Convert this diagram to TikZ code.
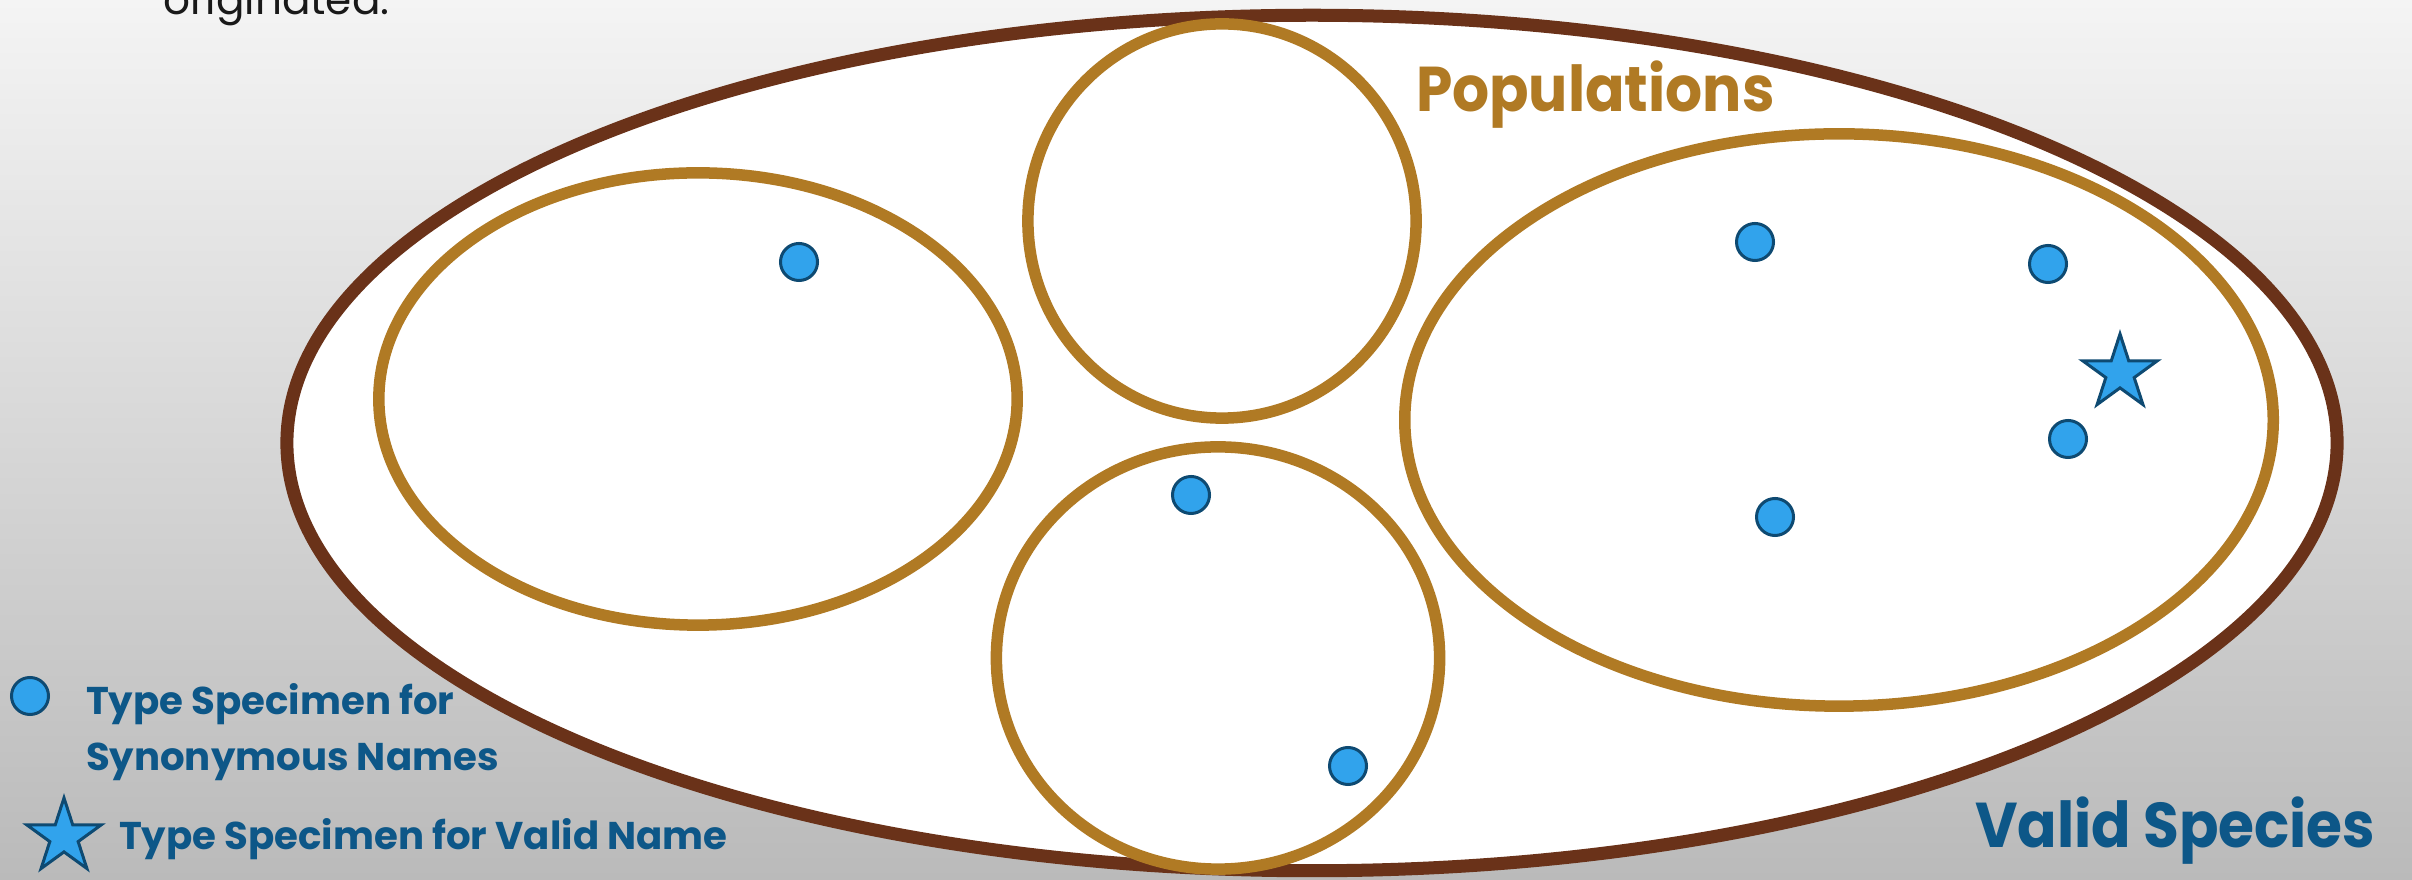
\documentclass[tikz,border=0pt]{standalone}
\usepackage{fontspec}
\setmainfont{Poppins}
\newfontfamily\titlefont{Poppins}[FakeStretch=0.92]
\usetikzlibrary{shapes.geometric}

\definecolor{speciesbrown}{HTML}{6A3219}
\definecolor{popgold}{HTML}{B07A24}
\definecolor{dotblue}{HTML}{31A3EC}
\definecolor{dotedge}{HTML}{0E4A72}
\definecolor{textblue}{HTML}{0D5788}
\definecolor{bgtop}{HTML}{F4F4F4}
\definecolor{bgbottom}{HTML}{BABABA}

\begin{document}
\begin{tikzpicture}[x=0.01cm, y=-0.01cm, every node/.style={inner sep=0pt, outer sep=0pt},
    species/.style={ellipse, draw=speciesbrown, line width=0.13cm, fill=white},
    population/.style={ellipse, draw=popgold, line width=0.115cm, fill=white},
    synonym/.style={circle, draw=dotedge, line width=0.03cm, fill=dotblue, minimum size=0.37cm},
    validtype/.style={star, star points=5, star point ratio=2.618, draw=dotedge, line width=0.03cm, fill=dotblue, minimum size=0.78cm},
    bigtext/.style={anchor=base west, font=\titlefont\bfseries\fontsize{18}{22}\selectfont},
    legendtext/.style={anchor=base west, text=textblue, align=left, font=\bfseries\fontsize{11}{16}\selectfont}]
    % Background
    \useasboundingbox (0,0) rectangle (2412,880);
    \clip (0,0) rectangle (2412,880);
    \shade[top color=bgtop, bottom color=bgbottom] (0,0) rectangle (2412,880);
    \node[anchor=base west, text=black!90, font=\fontsize{12}{14}\selectfont] (caption) at (163,15) {originated.};

    % Nodes
    \node[species, minimum width=20.49cm, minimum height=8.55cm] (validspecies) at (1312,443) {};
    \node[population, minimum width=6.38cm, minimum height=4.52cm] (popleft) at (698,399) {};
    \node[population, minimum width=3.88cm, minimum height=3.94cm] (poptop) at (1222,221) {};
    \node[population, minimum width=4.43cm, minimum height=4.22cm] (popbottom) at (1218,658) {};
    \node[population, minimum width=8.68cm, minimum height=5.72cm] (popright) at (1839,420) {};

    \node[synonym] (s1) at (799,262) {};
    \node[synonym] (s2) at (1191,495) {};
    \node[synonym] (s3) at (1348,766) {};
    \node[synonym] (s4) at (1755,242) {};
    \node[synonym] (s5) at (2048,264) {};
    \node[synonym] (s6) at (2068,439) {};
    \node[synonym] (s7) at (1775,517) {};
    \node[validtype] (holotype) at (2120,373) {};

    % Labels
    \node[bigtext, text=popgold] (poplabel) at (1416,112) {Populations};
    \node[bigtext, text=textblue] (specieslabel) at (1975,848) {Valid Species};
    \node[synonym] (keydot) at (30,696) {};
    \node[legendtext] (keysyn) at (86,771) {Type Specimen for\\Synonymous Names};
    \node[validtype] (keystar) at (64,837) {};
    \node[legendtext] (keyvalid) at (119,850) {Type Specimen for Valid Name};
\end{tikzpicture}
\end{document}
